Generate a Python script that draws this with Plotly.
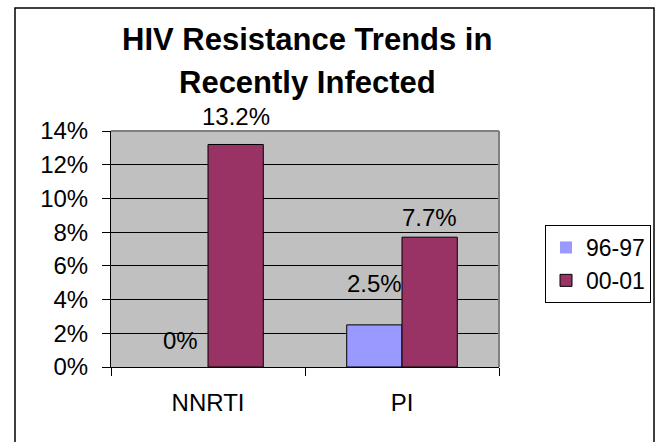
import plotly.graph_objects as go

# Chart data
categories = ["NNRTI", "PI"]
series_names = ["96-97", "00-01"]
values_96_97 = [0.0, 0.025]
values_00_01 = [0.132, 0.077]
tick_values = [0, 0.02, 0.04, 0.06, 0.08, 0.10, 0.12, 0.14]

# Layout constants (pixels)
W, H = 659, 442
PL, PR, PT, PB = 111, 499, 131, 367          # plot area edges
BARGAP = 0.43
FONT = "Liberation Sans, Arial, sans-serif"
BODY = 24

colors = ["#9999FF", "#993366"]
series = [values_96_97, values_00_01]

fig = go.Figure()
for name, vals, col in zip(series_names, series, colors):
    fig.add_trace(go.Bar(
        x=categories, y=vals, name=name,
        marker=dict(color=col,
                    line=dict(color="black", width=[1 if v else 0 for v in vals])),
    ))

# Value labels above each bar
pw, ph = PR - PL, PB - PT
cat_px = pw / len(categories)
bar_px = cat_px * (1 - BARGAP) / len(series)
label_lift = [[27, 41], [28, 20]]   # pixel lift of each label centre above its bar top
annotations = []
for si, vals in enumerate(series):
    xs = (si - (len(series) - 1) / 2) * bar_px
    for ci, v in enumerate(vals):
        annotations.append(dict(
            x=categories[ci], y=v, xref="x", yref="y",
            text=f"{v * 100:.1f}%" if v else "0%",
            showarrow=False, xshift=xs, yshift=label_lift[si][ci],
            yanchor="middle", xanchor="center",
            font=dict(family=FONT, size=BODY, color="black"),
        ))

def px_x(p):
    return (p - PL) / pw

def px_y(p):
    return (PB - p) / ph

# Two-line title
for text, yc in [("HIV Resistance Trends in", 40), ("Recently Infected", 82)]:
    annotations.append(dict(
        x=px_x(307), y=px_y(yc), xref="paper", yref="paper",
        text=f"<b>{text}</b>", showarrow=False,
        xanchor="center", yanchor="middle",
        font=dict(family=FONT, size=31, color="black"),
    ))

shapes = [
    # outer chart frame
    dict(type="rect", xref="paper", yref="paper",
         x0=px_x(15), x1=px_x(654), y0=px_y(460), y1=px_y(8),
         line=dict(color="black", width=1.5), layer="below"),
    # grey top and right edges of the plot area
    dict(type="line", xref="paper", yref="paper", x0=0, x1=1, y0=1, y1=1,
         line=dict(color="#808080", width=2)),
    dict(type="line", xref="paper", yref="paper", x0=1, x1=1, y0=0, y1=1,
         line=dict(color="#808080", width=2)),
]

fig.update_layout(
    width=W, height=H,
    margin=dict(l=PL, r=W - PR, t=PT, b=H - PB, autoexpand=False),
    paper_bgcolor="white", plot_bgcolor="#C0C0C0",
    barmode="group", bargap=BARGAP, bargroupgap=0,
    font=dict(family=FONT, size=BODY, color="black"),
    showlegend=True,
    legend=dict(
        x=px_x(545), y=px_y(225), xanchor="left", yanchor="top",
        bgcolor="white", bordercolor="black", borderwidth=1,
        font=dict(family=FONT, size=23),
    ),
    annotations=annotations,
    shapes=shapes,
)
fig.update_xaxes(
    showline=True, linecolor="black", linewidth=1,
    ticks="outside", tickson="boundaries", ticklen=8, tickcolor="black",
    showgrid=False, tickfont=dict(size=BODY), ticklabelstandoff=14,
)
fig.update_yaxes(
    range=[0, 0.14], tickvals=tick_values, tickformat=".0%",
    showline=True, linecolor="black", linewidth=1,
    ticks="outside", ticklen=8, tickcolor="black",
    showgrid=True, gridcolor="black", gridwidth=1,
    zeroline=False, tickfont=dict(size=BODY), ticklabelstandoff=9,
)

fig.write_html("out.html")
